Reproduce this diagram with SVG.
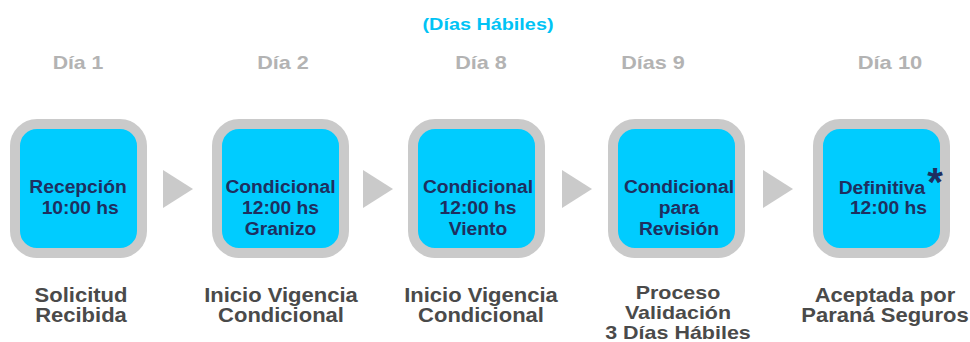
<svg xmlns="http://www.w3.org/2000/svg" width="970" height="342" viewBox="0 0 970 342">
<style>
.box{fill:#00CCFF;stroke:#CACACA;stroke-width:10}
.bt{font-family:"Liberation Sans",Arial,sans-serif;font-weight:bold;font-size:18px;fill:#1E2F60;text-anchor:middle}
.day{font-family:"Liberation Sans",Arial,sans-serif;font-weight:bold;font-size:18px;fill:#B3B3B3;text-anchor:middle}
.lab{font-family:"Liberation Sans",Arial,sans-serif;font-weight:bold;font-size:20px;fill:#4A4A4A;text-anchor:middle}
.ttl{font-family:"Liberation Sans",Arial,sans-serif;font-weight:bold;font-size:16px;fill:#00C3F5;text-anchor:middle}
.arr{fill:#CACACA}
</style>
<rect width="970" height="342" fill="#FFFFFF"/>
<text class="ttl" x="488" y="30" textLength="131" lengthAdjust="spacingAndGlyphs">(Días Hábiles)</text>
<g id="days">
<g transform="translate(78,69) scale(1.18,1)"><text class="day" x="0" y="0">Día 1</text></g>
<g transform="translate(283,69) scale(1.2,1)"><text class="day" x="0" y="0">Día 2</text></g>
<g transform="translate(481,69) scale(1.2,1)"><text class="day" x="0" y="0">Día 8</text></g>
<g transform="translate(653,69) scale(1.2,1)"><text class="day" x="0" y="0">Días 9</text></g>
<g transform="translate(890,69) scale(1.22,1)"><text class="day" x="0" y="0">Día 10</text></g>
</g>
<g id="connectors">
<polygon class="arr" points="163,170 193,189 163,208"/>
<polygon class="arr" points="363,170 393,189 363,208"/>
<polygon class="arr" points="562,170 592,189 562,208"/>
<polygon class="arr" points="763,170 793,189 763,208"/>
</g>
<g id="n1">
<rect class="box" x="15" y="124" width="127" height="129" rx="22"/>
<g transform="translate(78,0) scale(1.07,1)">
<text class="bt" x="0" y="193">Recepción</text>
<text class="bt" x="2" y="214">10:00 hs</text>
</g>
</g>
<g id="n2">
<rect class="box" x="217" y="124" width="127" height="129" rx="22"/>
<g transform="translate(280.5,0) scale(1.07,1)">
<text class="bt" x="0" y="193">Condicional</text>
<text class="bt" x="0" y="214">12:00 hs</text>
<text class="bt" x="0" y="235">Granizo</text>
</g>
</g>
<g id="n3">
<rect class="box" x="413" y="124" width="127" height="129" rx="22"/>
<g transform="translate(478,0) scale(1.07,1)">
<text class="bt" x="0" y="193">Condicional</text>
<text class="bt" x="0" y="214">12:00 hs</text>
<text class="bt" x="0" y="235">Viento</text>
</g>
</g>
<g id="n4">
<rect class="box" x="613" y="124" width="127" height="129" rx="22"/>
<g transform="translate(679,0) scale(1.07,1)">
<text class="bt" x="0" y="193">Condicional</text>
<text class="bt" x="0" y="214">para</text>
<text class="bt" x="0" y="235">Revisión</text>
</g>
</g>
<g id="n5">
<rect class="box" x="818" y="124" width="127" height="129" rx="22"/>
<g transform="translate(882,0) scale(1.07,1)">
<text class="bt" x="0" y="194">Definitiva</text>
<text class="bt" x="6" y="214">12:00 hs</text>
</g>
<text class="bt" x="935" y="196" style="font-size:40px">*</text>
</g>
<g id="labels">
<g transform="translate(81,0) scale(1.1,1)">
<text class="lab" x="0" y="302">Solicitud</text>
<text class="lab" x="0" y="322">Recibida</text>
</g>
<g transform="translate(281,0) scale(1.1,1)">
<text class="lab" x="0" y="302">Inicio Vigencia</text>
<text class="lab" x="0" y="322">Condicional</text>
</g>
<g transform="translate(481,0) scale(1.1,1)">
<text class="lab" x="0" y="302">Inicio Vigencia</text>
<text class="lab" x="0" y="322">Condicional</text>
</g>
<g transform="translate(678,0) scale(1.13,1)">
<text class="lab" x="0" y="299" style="font-size:19px">Proceso</text>
<text class="lab" x="0" y="319" style="font-size:19px">Validación</text>
<text class="lab" x="0" y="339" style="font-size:19px">3 Días Hábiles</text>
</g>
<g transform="translate(885,0) scale(1.1,1)">
<text class="lab" x="0" y="302">Aceptada por</text>
<text class="lab" x="0" y="322">Paraná Seguros</text>
</g>
</g>
</svg>
